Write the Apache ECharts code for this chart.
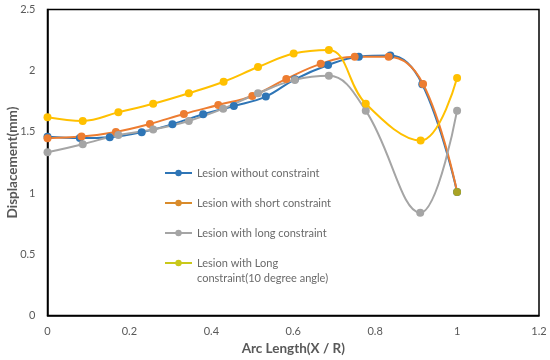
<!DOCTYPE html>
<html><head><meta charset="utf-8">
<script src="https://cdn.jsdelivr.net/npm/echarts@6/dist/echarts.min.js"></script>
<style>html,body{margin:0;padding:0;background:#fff}#c{width:550px;height:360px}</style>
</head><body><div id="c"></div>
<script>
const seriesNames = ['Lesion without constraint','Lesion with short constraint','Lesion with long constraint','Lesion with Long\nconstraint(10 degree angle)'];
const blueX = [0, 0.079, 0.152, 0.23, 0.305, 0.38, 0.455, 0.533, 0.604, 0.685, 0.76, 0.837, 0.915, 1.0];
const blueY = [1.46, 1.45, 1.457, 1.497, 1.563, 1.645, 1.712, 1.789, 1.93, 2.047, 2.115, 2.124, 1.89, 1.01];
const orangeX = [0, 0.083, 0.167, 0.25, 0.333, 0.417, 0.5, 0.583, 0.667, 0.75, 0.833, 0.917, 1.0];
const orangeY = [1.449, 1.462, 1.50, 1.565, 1.647, 1.72, 1.794, 1.933, 2.056, 2.115, 2.115, 1.892, 1.01];
const grayX = [0, 0.086, 0.173, 0.258, 0.345, 0.429, 0.514, 0.604, 0.687, 0.777, 0.91, 1.0];
const grayY = [1.334, 1.40, 1.475, 1.52, 1.59, 1.69, 1.816, 1.925, 1.958, 1.674, 0.84, 1.674];
const yellowX = [0, 0.086, 0.173, 0.258, 0.345, 0.43, 0.514, 0.601, 0.687, 0.777, 0.911, 1.0];
const yellowY = [1.62, 1.59, 1.66, 1.73, 1.816, 1.91, 2.03, 2.14, 2.17, 1.73, 1.43, 1.94];
const xTicks = {min: 0, max: 1.2, interval: 0.2};
const yTicks = {min: 0, max: 2.5, interval: 0.5};

const colors = ['#2E75B6', '#ED7D31', '#A5A5A5', '#FFC000'];
const legendColors = ['#2E75B6', '#D98B2B', '#A5A5A5', '#C9C81A'];
const zip = (xs, ys) => xs.map((x, i) => [x, ys[i]]);
const datasets = [zip(blueX, blueY), zip(orangeX, orangeY), zip(grayX, grayY), zip(yellowX, yellowY)];
// last orange marker drawn olive as in the reference
datasets[1][datasets[1].length - 1] = {value: datasets[1][datasets[1].length - 1], itemStyle: {color: '#A9A324'}};

const font = 'Lato, "Open Sans", sans-serif';
const legendText = {color: '#6a6a6a', fontSize: 11, fontFamily: font, lineHeight: 15};
const legendItem = i => ({name: seriesNames[i], itemStyle: {color: legendColors[i]}, lineStyle: {color: legendColors[i], width: 2}});
const chart = echarts.init(document.getElementById('c'), null, {renderer: 'canvas'});
chart.setOption({
  animation: false,
  grid: {left: 47.5, right: 11, top: 9.5, bottom: 44.4, show: true, borderColor: '#000', borderWidth: 1.5, containLabel: false, outerBoundsMode: 'none'},
  legend: [
    {orient: 'vertical', left: 159, top: 160.5, itemGap: 15, itemWidth: 27, itemHeight: 8,
     textStyle: legendText, data: [0, 1, 2].map(legendItem)},
    {orient: 'vertical', left: 159, top: 235.5, itemWidth: 27, itemHeight: 8,
     textStyle: legendText, formatter: n => ' \n' + n, data: [legendItem(3)]}
  ],
  xAxis: {
    type: 'value', min: xTicks.min, max: xTicks.max, interval: xTicks.interval,
    name: 'Arc Length(X / R)', nameLocation: 'middle', nameGap: 26, nameMoveOverlap: false,
    nameTextStyle: {color: '#595959', fontSize: 13.5, fontWeight: 'bold', fontFamily: font},
    axisLine: {lineStyle: {color: '#000', width: 1.5}}, axisTick: {show: false},
    axisLabel: {color: '#595959', fontSize: 11, fontFamily: font, margin: 10},
    splitLine: {show: false}
  },
  yAxis: {
    type: 'value', min: yTicks.min, max: yTicks.max, interval: yTicks.interval,
    name: 'Displacement(mm)', nameLocation: 'middle', nameGap: 28, nameMoveOverlap: false,
    nameTextStyle: {color: '#595959', fontSize: 13.5, fontWeight: 'bold', fontFamily: font},
    axisLine: {show: true, lineStyle: {color: '#000', width: 1.5}}, axisTick: {show: false},
    axisLabel: {color: '#595959', fontSize: 11, fontFamily: font, margin: 12},
    splitLine: {show: false}
  },
  series: datasets.map((d, i) => ({
    name: seriesNames[i], type: 'line', data: d, smooth: 0.4,
    symbol: 'circle', symbolSize: 8, showSymbol: true,
    lineStyle: {color: colors[i], width: 2}, itemStyle: {color: colors[i]}
  }))
});
</script></body></html>
